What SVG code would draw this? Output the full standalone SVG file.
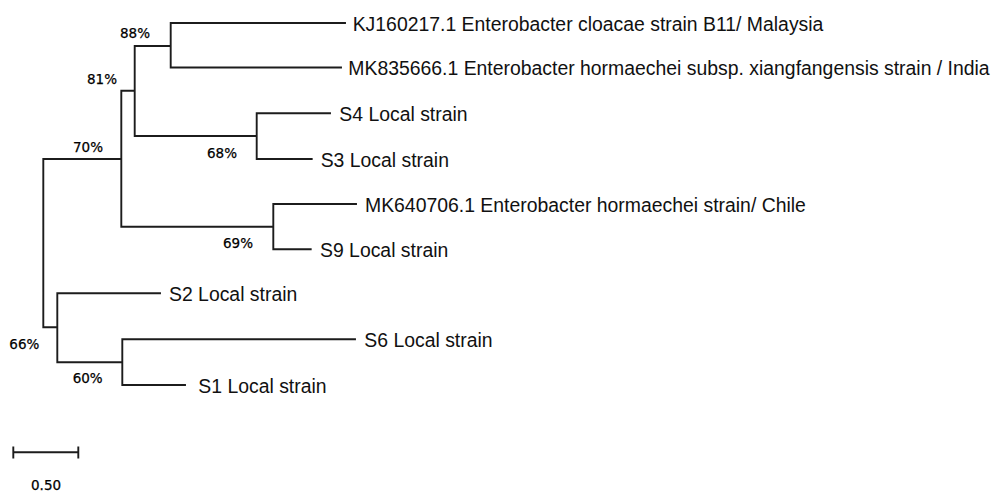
<svg xmlns="http://www.w3.org/2000/svg" width="993" height="493" viewBox="0 0 993 493">
<style>
.br{fill:none;stroke:#1c1c1c;stroke-width:1.9;stroke-linecap:square}
.lf{font-family:"Liberation Sans",Arial,sans-serif;font-size:19.4px;fill:#111}
.bs{font-family:"DejaVu Sans",Verdana,sans-serif;font-size:13.5px;fill:#000;stroke:#000;stroke-width:0.25}
</style>
<rect width="993" height="493" fill="#fff"/>
<g id="connectors">
<path class="br" d="M43.3,159V327.3M43.3,159H121.3M121.3,90.7V226.7M121.3,90.7H134.7M134.7,46V136M134.7,46H170.7M170.7,23V67.5M170.7,23H345M170.7,67.5H341M134.7,136H256.7M256.7,113.3V159M256.7,113.3H330M256.7,159H311.7M121.3,226.7H273.3M273.3,204V249.3M273.3,204H356M273.3,249.3H310.7M43.3,327.3H57.3M57.3,293.3V362.3M57.3,293.3H160M57.3,362.3H122.3M122.3,339.3V385M122.3,339.3H355M122.3,385H185"/>
</g>
<g id="leaf-KJ160217"><text class="lf" x="352.7" y="30.5">KJ160217.1 Enterobacter cloacae strain B11/ Malaysia</text></g>
<g id="leaf-MK835666"><text class="lf" x="348.3" y="75.3">MK835666.1 Enterobacter hormaechei subsp. xiangfangensis strain / India</text></g>
<g id="leaf-S4"><text class="lf" x="339.3" y="121">S4 Local strain</text></g>
<g id="leaf-S3"><text class="lf" x="320.7" y="166.5">S3 Local strain</text></g>
<g id="leaf-MK640706"><text class="lf" x="365" y="211.7">MK640706.1 Enterobacter hormaechei strain/ Chile</text></g>
<g id="leaf-S9"><text class="lf" x="320" y="257">S9 Local strain</text></g>
<g id="leaf-S2"><text class="lf" x="169" y="301">S2 Local strain</text></g>
<g id="leaf-S6"><text class="lf" x="364.3" y="346.8">S6 Local strain</text></g>
<g id="leaf-S1"><text class="lf" x="198.3" y="392.5">S1 Local strain</text></g>
<g id="node-88"><text class="bs" x="120" y="38.3">88%</text></g>
<g id="node-81"><text class="bs" x="87" y="84">81%</text></g>
<g id="node-70"><text class="bs" x="73" y="151.6">70%</text></g>
<g id="node-68"><text class="bs" x="207" y="157.6">68%</text></g>
<g id="node-69"><text class="bs" x="223" y="247.5">69%</text></g>
<g id="node-66"><text class="bs" x="9.3" y="349">66%</text></g>
<g id="node-60"><text class="bs" x="72.7" y="383">60%</text></g>
<g id="scale-bar">
<path class="br" d="M13.3,452.3H78.3M13.3,447.5V457.5M78.3,447.5V457.5" stroke-linecap="butt"/>
<text class="bs" x="31" y="489.5" font-size="13">0.50</text>
</g>
</svg>
